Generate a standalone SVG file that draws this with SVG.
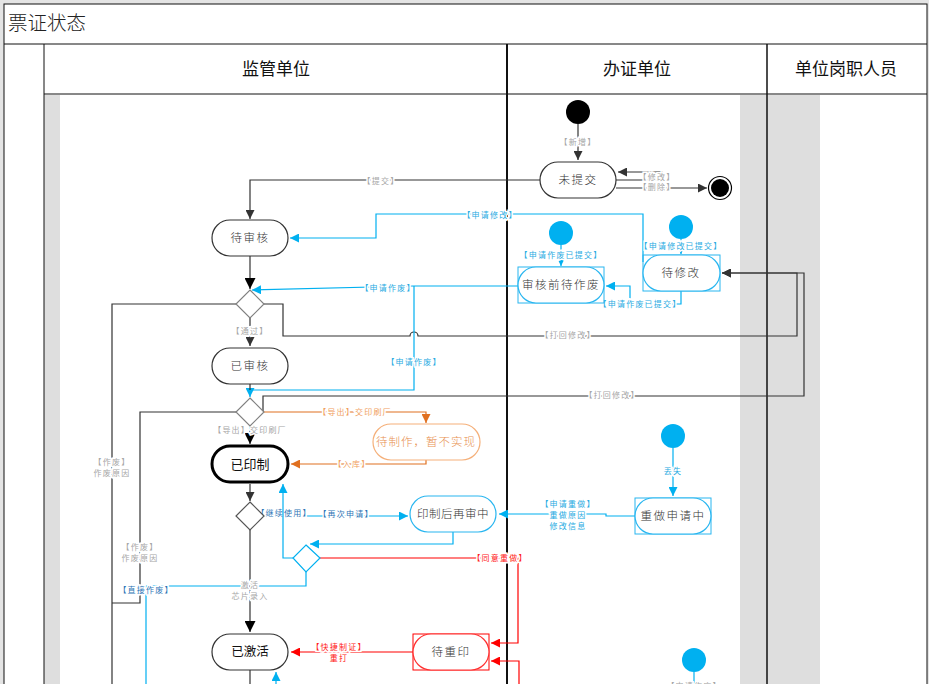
<svg xmlns="http://www.w3.org/2000/svg" width="929" height="684" viewBox="0 0 929 684">
<style>
text{font-family:"Noto Sans CJK SC","Noto Sans",sans-serif}
.hd{font-size:17px;fill:#111;text-anchor:middle}
.nt{font-size:11.5px;fill:#333;text-anchor:middle;letter-spacing:1.5px;font-weight:300}
.lb{font-size:8px;text-anchor:middle;letter-spacing:1.2px;stroke:#fff;stroke-width:3px;paint-order:stroke}
.g{fill:#a6a6a6}.c{fill:#29abe2}.b{fill:#2e75b6}.o{fill:#f0a060}.r{fill:#ff2020}
.node{fill:#fff;stroke:#333;stroke-width:1.2}
.cn{fill:#fff;stroke:#29b6f0;stroke-width:1.2}
.sel{fill:none;stroke:#29b6f0;stroke-width:1}
.k{fill:none;stroke:#333;stroke-width:1.2}
.cy{fill:none;stroke:#00b0f0;stroke-width:1.2}
.or{fill:none;stroke:#e07020;stroke-width:1.2}
.rd{fill:none;stroke:#ff0000;stroke-width:1.2}
</style>
<defs>
<marker id="ak" viewBox="0 0 10 10" refX="10" refY="5" markerWidth="9" markerHeight="9" markerUnits="userSpaceOnUse" orient="auto"><path d="M0,0L10,5L0,10z" fill="#333"/></marker>
<marker id="akb" viewBox="0 0 10 10" refX="10" refY="5" markerWidth="11" markerHeight="11" markerUnits="userSpaceOnUse" orient="auto"><path d="M0,0L10,5L0,10z" fill="#000"/></marker>
<marker id="ac" viewBox="0 0 10 10" refX="10" refY="5" markerWidth="9" markerHeight="9" markerUnits="userSpaceOnUse" orient="auto"><path d="M0,0L10,5L0,10z" fill="#00b0f0"/></marker>
<marker id="ao" viewBox="0 0 10 10" refX="10" refY="5" markerWidth="9" markerHeight="9" markerUnits="userSpaceOnUse" orient="auto"><path d="M0,0L10,5L0,10z" fill="#e07020"/></marker>
<marker id="ar" viewBox="0 0 10 10" refX="10" refY="5" markerWidth="9" markerHeight="9" markerUnits="userSpaceOnUse" orient="auto"><path d="M0,0L10,5L0,10z" fill="#ff0000"/></marker>
</defs>
<rect x="0" y="0" width="929" height="684" fill="#e4e4e4"/>
<g id="pool">
<rect x="4" y="4" width="923" height="690" fill="#fff" stroke="#111" stroke-width="1"/>
<rect x="44" y="95" width="776" height="600" fill="#dedede"/>
<rect x="60" y="95" width="680" height="600" fill="#fff"/>
<line x1="4" y1="44" x2="927" y2="44" stroke="#111"/>
<line x1="44" y1="94" x2="927" y2="94" stroke="#111"/>
<line x1="44" y1="44" x2="44" y2="684" stroke="#111"/>
<line x1="507" y1="44" x2="507" y2="684" stroke="#111" stroke-width="2"/>
<line x1="767" y1="44" x2="767" y2="684" stroke="#111" stroke-width="1.5"/>
<text x="8" y="30" font-size="19.5" fill="#222" font-weight="300">票证状态</text>
<text class="hd" x="276" y="75">监管单位</text>
<text class="hd" x="637" y="75">办证单位</text>
<text class="hd" x="846" y="75">单位岗职人员</text>
</g>
<g id="connectors">
<path class="k" d="M578,124V160" marker-end="url(#ak)"/>
<text class="lb g" x="578" y="145">【新增】</text>
<path class="k" d="M616,180H662V172H618" marker-end="url(#ak)"/>
<text class="lb g" x="657" y="180">【修改】</text>
<path class="k" d="M616,188H707" marker-end="url(#ak)"/>
<text class="lb g" x="657" y="190">【删除】</text>
<path class="k" d="M540,180H250V219" marker-end="url(#ak)"/>
<text class="lb g" x="381" y="184">【提交】</text>
<path class="k" d="M250,256V289" stroke-width="1.5" marker-end="url(#akb)"/>
<path class="cy" d="M643,262V214H376V238H290" marker-end="url(#ac)"/>
<text class="lb c" x="490" y="218">【申请修改】</text>
<path class="cy" d="M561,245V266" marker-end="url(#ac)"/>
<text class="lb c" x="561" y="258">【申请作废已提交】</text>
<path class="cy" d="M681,239V254" marker-end="url(#ac)"/>
<text class="lb c" x="681" y="249">【申请修改已提交】</text>
<path class="cy" d="M681,291V304H630V286H606" marker-end="url(#ac)"/>
<text class="lb c" x="640" y="307">【申请作废已提交】</text>
<path class="cy" d="M518,286H414L252,290" marker-end="url(#ac)"/>
<text class="lb c" x="388" y="291">【申请作废】</text>
<path class="k" d="M264,304H283V336H410a4,4 0 0 1 8,0H797V273H722" marker-end="url(#ak)"/>
<text class="lb g" x="568" y="338">【打回修改】</text>
<path class="cy" d="M414,286V390H250V397" marker-end="url(#ac)"/>
<text class="lb c" x="414" y="365">【申请作废】</text>
<path class="k" d="M250,318V346" marker-end="url(#ak)"/>
<text class="lb g" x="250" y="334">【通过】</text>
<path class="k" d="M250,384V390"/>
<path class="k" d="M263,412V396H804V273H722" marker-end="url(#ak)"/>
<text class="lb g" x="612" y="398">【打回修改】</text>
<path class="or" d="M264,412H426V423" marker-end="url(#ao)"/>
<text class="lb o" x="355" y="415">【导出】交印刷厂</text>
<path class="or" d="M426,460V464H291" marker-end="url(#ao)"/>
<text class="lb o" x="352" y="467">【入库】</text>
<path class="k" d="M250,426V444" stroke-width="1.5" marker-end="url(#akb)"/>
<text class="lb g" x="250" y="433">【导出】交印刷厂</text>
<path class="k" d="M236,412H140V603H112"/>
<text class="lb g" x="140" y="550">【作废】</text>
<text class="lb g" x="140" y="561">作废原因</text>
<path class="k" d="M236,304H112V690"/>
<text class="lb g" x="112" y="465">【作废】</text>
<text class="lb g" x="112" y="476">作废原因</text>
<path class="k" d="M250,484V501" marker-end="url(#ak)"/>
<path class="cy" d="M264,516H408" marker-end="url(#ac)"/>
<text class="lb b" x="284" y="516">【继续使用】</text>
<text class="lb b" x="346" y="517">【再次申请】</text>
<path class="k" d="M250,530V632" marker-end="url(#akb)"/>
<path class="cy" d="M453,532V544H310" marker-end="url(#ac)"/>
<path class="cy" d="M293,558H283V484" marker-end="url(#ac)"/>
<path class="rd" d="M320,558H518V643H491" marker-end="url(#ar)"/>
<text class="lb r" x="500" y="561">【同意重做】</text>
<path class="rd" d="M519,690V661H491" marker-end="url(#ar)"/>
<path class="cy" d="M306,572V586H254a4,4 0 0 0 -8,0H146V690"/>
<text class="lb b" x="146" y="593">【直接作废】</text>
<text class="lb g" x="250" y="588">激活</text>
<text class="lb g" x="250" y="599">芯片录入</text>
<path class="rd" d="M413,652H291" marker-end="url(#ar)"/>
<text class="lb r" x="339" y="650">【快捷制证】</text>
<text class="lb r" x="339" y="661">重打</text>
<path class="cy" d="M276,690V672" marker-end="url(#ac)"/>
<path class="k" d="M250,670V690"/>
<path class="cy" d="M673,448V496" marker-end="url(#ac)"/>
<text class="lb c" x="673" y="474">丢失</text>
<path class="cy" d="M635,516H606V514H499" marker-end="url(#ac)"/>
<text class="lb c" x="568" y="507">【申请重做】</text>
<text class="lb c" x="568" y="518">重做原因</text>
<text class="lb c" x="568" y="529">修改信息</text>
<path class="cy" d="M694,672V690"/>
<text class="lb g" x="694" y="689">【申请作废】</text>
</g>
<g id="start"><circle cx="578" cy="112" r="12" fill="#000"/></g>
<g id="end"><circle cx="720" cy="188" r="11.5" fill="#fff" stroke="#000" stroke-width="1.2"/><circle cx="720" cy="188" r="9" fill="#000"/></g>
<g id="start-c1"><circle cx="561" cy="233" r="12" fill="#00b0f0"/></g>
<g id="start-c2"><circle cx="681" cy="227" r="12" fill="#00b0f0"/></g>
<g id="start-c3"><circle cx="673" cy="436" r="12" fill="#00b0f0"/></g>
<g id="start-c4"><circle cx="694" cy="660" r="12" fill="#00b0f0"/></g>
<g id="weitijiao"><rect class="node" x="540" y="162" width="76" height="36" rx="18"/><text class="nt" x="578" y="184">未提交</text></g>
<g id="daishenhe"><rect class="node" x="212" y="220" width="76" height="36" rx="18"/><text class="nt" x="250" y="242">待审核</text></g>
<g id="yishenhe"><rect class="node" x="212" y="348" width="76" height="36" rx="18"/><text class="nt" x="250" y="370">已审核</text></g>
<g id="shenhezuofei"><rect class="sel" x="518" y="267" width="86" height="36"/><rect class="cn" x="518" y="267" width="86" height="36" rx="18"/><text class="nt" x="561" y="289">审核前待作废</text></g>
<g id="daixiugai"><rect class="sel" x="643" y="255" width="77" height="36"/><rect class="cn" x="643" y="255" width="77" height="36" rx="18"/><text class="nt" x="681" y="277">待修改</text></g>
<g id="daizhizuo"><rect x="373" y="424" width="107" height="36" rx="18" fill="#fff" stroke="#f5b07a" stroke-width="1.2"/><text class="nt" x="426" y="446" style="fill:#e8904f;letter-spacing:1px">待制作，暂不实现</text></g>
<g id="yiyinzhi"><rect x="212" y="446" width="76" height="36" rx="18" fill="#fff" stroke="#000" stroke-width="3"/><text class="nt" x="250" y="469" style="font-size:13px;fill:#111;font-weight:400;letter-spacing:0">已印制</text></g>
<g id="yinzhihou"><rect class="cn" x="410" y="496" width="86" height="36" rx="18"/><text class="nt" x="453" y="518" style="letter-spacing:0.5px">印制后再审中</text></g>
<g id="chongzuo"><rect class="sel" x="635" y="498" width="76" height="36"/><rect class="cn" x="635" y="498" width="76" height="36" rx="18"/><text class="nt" x="673" y="520">重做申请中</text></g>
<g id="yijihuo"><rect class="node" x="212" y="634" width="76" height="36" rx="18"/><text class="nt" x="250" y="656" style="font-size:12.5px;fill:#111;font-weight:400;letter-spacing:0">已激活</text></g>
<g id="daichongyin"><rect x="413" y="634" width="76" height="36" fill="none" stroke="#ff0000" stroke-width="1"/><rect x="413" y="634" width="76" height="36" rx="18" fill="#fff" stroke="#ff3030" stroke-width="1.2"/><text class="nt" x="451" y="656">待重印</text></g>
<g id="d1"><path d="M250,290L264,304L250,318L236,304z" fill="#fff" stroke="#808080" stroke-width="1.2"/></g>
<g id="d2"><path d="M250,398L264,412L250,426L236,412z" fill="#fff" stroke="#808080" stroke-width="1.2"/></g>
<g id="d3"><path d="M250,502L264,516L250,530L236,516z" fill="#fff" stroke="#555" stroke-width="1.2"/></g>
<g id="d4"><path d="M306,545L320,558L306,572L293,558z" fill="#fff" stroke="#00b0f0" stroke-width="1.2"/></g>
</svg>
